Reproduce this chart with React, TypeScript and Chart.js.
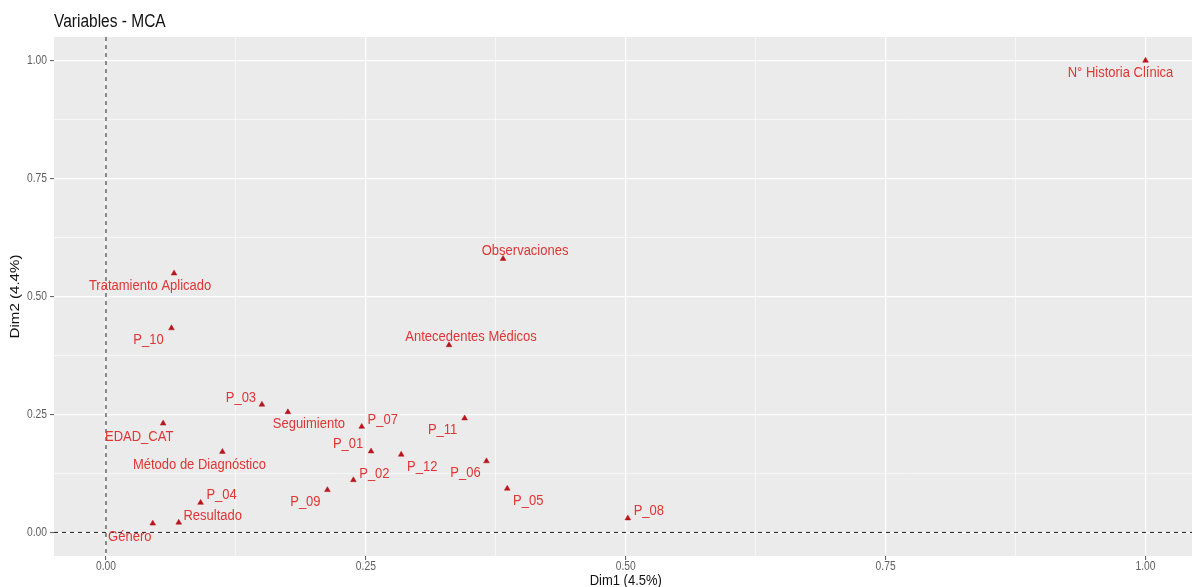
import React, { useEffect, useRef } from "react";
import { Chart, registerables } from "chart.js";

Chart.register(...registerables);

// Variable names and their coordinates on the first two MCA dimensions
const varNames = [
  "N° Historia Clínica",
  "Observaciones",
  "Antecedentes Médicos",
  "Tratamiento Aplicado",
  "P_10",
  "P_03",
  "Seguimiento",
  "EDAD_CAT",
  "P_07",
  "P_11",
  "P_01",
  "Método de Diagnóstico",
  "P_12",
  "P_06",
  "P_02",
  "P_09",
  "P_05",
  "P_04",
  "P_08",
  "Resultado",
  "Género",
];

const dim1 = [
  1.0, 0.382, 0.33, 0.0655, 0.063, 0.15, 0.175, 0.055, 0.246, 0.345, 0.255,
  0.112, 0.284, 0.366, 0.238, 0.213, 0.386, 0.091, 0.502, 0.07, 0.045,
];

const dim2 = [
  1.0, 0.58, 0.397, 0.549, 0.433, 0.271, 0.255, 0.231, 0.224, 0.242, 0.172,
  0.171, 0.165, 0.151, 0.111, 0.09, 0.093, 0.063, 0.03, 0.021, 0.019,
];

// Repelled label placement: pixel offset of each label centre from its point
const labelOffsets: [number, number][] = [
  [-25, 12],
  [22, -8],
  [22, -8],
  [-24, 12],
  [-23, 12],
  [-21, -7],
  [21, 12],
  [-24, 13],
  [21, -7],
  [-22, 12],
  [-23, -7],
  [-23, 13],
  [21, 12],
  [-21, 12],
  [21, -6],
  [-22, 12],
  [21, 12],
  [21, -8],
  [21, -7],
  [34, -7],
  [-23, 13],
];

const xTicks = [0, 0.125, 0.25, 0.375, 0.5, 0.625, 0.75, 0.875, 1.0];
const yTicks = [0, 0.125, 0.25, 0.375, 0.5, 0.625, 0.75, 0.875, 1.0];

const chartTitle = "Variables - MCA";
const xTitle = "Dim1 (4.5%)";
const yTitle = "Dim2 (4.4%)";

const FONT = "Arial, 'Liberation Sans', sans-serif";
const POINT_COLOR = "#B8141C";
const LABEL_COLOR = "#DE3535";
const TICK_TEXT = "#606060";
const PANEL_BG = "#EBEBEB";
// glyphs are drawn slightly taller than wide
const TEXT_STRETCH = 1.16;

const isMajor = (v: number) => Math.abs(v * 4 - Math.round(v * 4)) < 1e-9;

function stretchedText(
  ctx: CanvasRenderingContext2D,
  text: string,
  x: number,
  y: number,
  rotate = 0
) {
  ctx.save();
  ctx.translate(x, y);
  if (rotate) ctx.rotate(rotate);
  if (rotate) ctx.scale(TEXT_STRETCH, 1);
  else ctx.scale(1, TEXT_STRETCH);
  ctx.fillText(text, 0, 0);
  ctx.restore();
}

const panelPlugin = {
  id: "panelDecor",
  beforeDraw(chart: any) {
    const { ctx, chartArea } = chart;
    ctx.save();
    ctx.fillStyle = PANEL_BG;
    ctx.fillRect(
      chartArea.left,
      chartArea.top,
      chartArea.right - chartArea.left,
      chartArea.bottom - chartArea.top
    );
    ctx.restore();
  },
  beforeDatasetsDraw(chart: any) {
    const { ctx, chartArea, scales } = chart;
    const x0 = scales.x.getPixelForValue(0);
    const y0 = scales.y.getPixelForValue(0);
    ctx.save();
    ctx.beginPath();
    ctx.rect(
      chartArea.left,
      chartArea.top,
      chartArea.right - chartArea.left,
      chartArea.bottom - chartArea.top
    );
    ctx.clip();
    ctx.strokeStyle = "#1e1e1e";
    ctx.lineWidth = 1;
    ctx.setLineDash([4, 4]);
    ctx.beginPath();
    ctx.moveTo(x0, chartArea.top);
    ctx.lineTo(x0, chartArea.bottom);
    ctx.moveTo(chartArea.left, y0);
    ctx.lineTo(chartArea.right, y0);
    ctx.stroke();
    ctx.restore();
  },
  afterDatasetsDraw(chart: any) {
    const { ctx } = chart;
    const meta = chart.getDatasetMeta(0);
    ctx.save();
    ctx.font = `13px ${FONT}`;
    ctx.fillStyle = LABEL_COLOR;
    ctx.textAlign = "center";
    ctx.textBaseline = "middle";
    meta.data.forEach((pt: any, i: number) => {
      const [dx, dy] = labelOffsets[i];
      stretchedText(ctx, varNames[i], pt.x + dx, pt.y + dy);
    });
    ctx.restore();
  },
  afterDraw(chart: any) {
    const { ctx, chartArea, scales } = chart;
    ctx.save();
    ctx.textBaseline = "middle";

    // tick labels
    ctx.font = `10.3px ${FONT}`;
    ctx.fillStyle = TICK_TEXT;
    ctx.textAlign = "center";
    xTicks.filter(isMajor).forEach((v) => {
      stretchedText(ctx, v.toFixed(2), scales.x.getPixelForValue(v), chartArea.bottom + 11);
    });
    ctx.textAlign = "right";
    yTicks.filter(isMajor).forEach((v) => {
      stretchedText(ctx, v.toFixed(2), chartArea.left - 7, scales.y.getPixelForValue(v));
    });

    // titles
    ctx.fillStyle = "#111111";
    ctx.textAlign = "left";
    ctx.font = `15.5px ${FONT}`;
    stretchedText(ctx, chartTitle, chartArea.left, 22);

    ctx.font = `13px ${FONT}`;
    ctx.textAlign = "center";
    stretchedText(ctx, xTitle, (chartArea.left + chartArea.right) / 2, 581);
    stretchedText(ctx, yTitle, 15, (chartArea.top + chartArea.bottom) / 2, -Math.PI / 2);
    ctx.restore();
  },
};

function gridFor() {
  return {
    color: "#FFFFFF",
    lineWidth: (c: any) => (c.tick && isMajor(c.tick.value) ? 1.2 : 0.6),
    tickColor: (c: any) =>
      c.tick && isMajor(c.tick.value) ? "#555555" : "rgba(0,0,0,0)",
    tickWidth: 1,
    tickLength: 4,
    drawTicks: true,
  };
}

export default function App() {
  const canvasRef = useRef<HTMLCanvasElement | null>(null);

  useEffect(() => {
    if (!canvasRef.current) return;
    const chart = new Chart(canvasRef.current, {
      type: "scatter",
      data: {
        datasets: [
          {
            data: dim1.map((x, i) => ({ x, y: dim2[i] })),
            pointStyle: "triangle",
            pointRadius: 3.3,
            backgroundColor: POINT_COLOR,
            borderColor: POINT_COLOR,
            borderWidth: 0.5,
          },
        ],
      },
      options: {
        responsive: false,
        animation: false,
        events: [],
        layout: { padding: { top: 37, right: 0, left: 0, bottom: 0 } },
        plugins: {
          legend: { display: false },
          tooltip: { enabled: false },
          title: { display: false },
        },
        scales: {
          x: {
            type: "linear",
            min: -0.05,
            max: 1.05,
            afterBuildTicks: (s: any) => {
              s.ticks = xTicks.map((v) => ({ value: v }));
            },
            afterFit: (s: any) => {
              s.height = 31;
            },
            border: { display: false },
            grid: gridFor(),
            ticks: { display: false, autoSkip: false, maxRotation: 0 },
          },
          y: {
            type: "linear",
            min: -0.05,
            max: 1.05,
            afterBuildTicks: (s: any) => {
              s.ticks = yTicks.map((v) => ({ value: v }));
            },
            afterFit: (s: any) => {
              s.width = 54;
            },
            border: { display: false },
            grid: gridFor(),
            ticks: { display: false, autoSkip: false },
          },
        },
      },
      plugins: [panelPlugin],
    });
    return () => chart.destroy();
  }, []);

  return (
    <div
      style={{
        position: "fixed",
        left: 0,
        top: 0,
        width: 1192,
        height: 587,
        overflow: "hidden",
        background: "#FFFFFF",
      }}
    >
      <canvas
        ref={canvasRef}
        width={1202}
        height={587}
        style={{ display: "block", width: 1202, height: 587 }}
      />
    </div>
  );
}
